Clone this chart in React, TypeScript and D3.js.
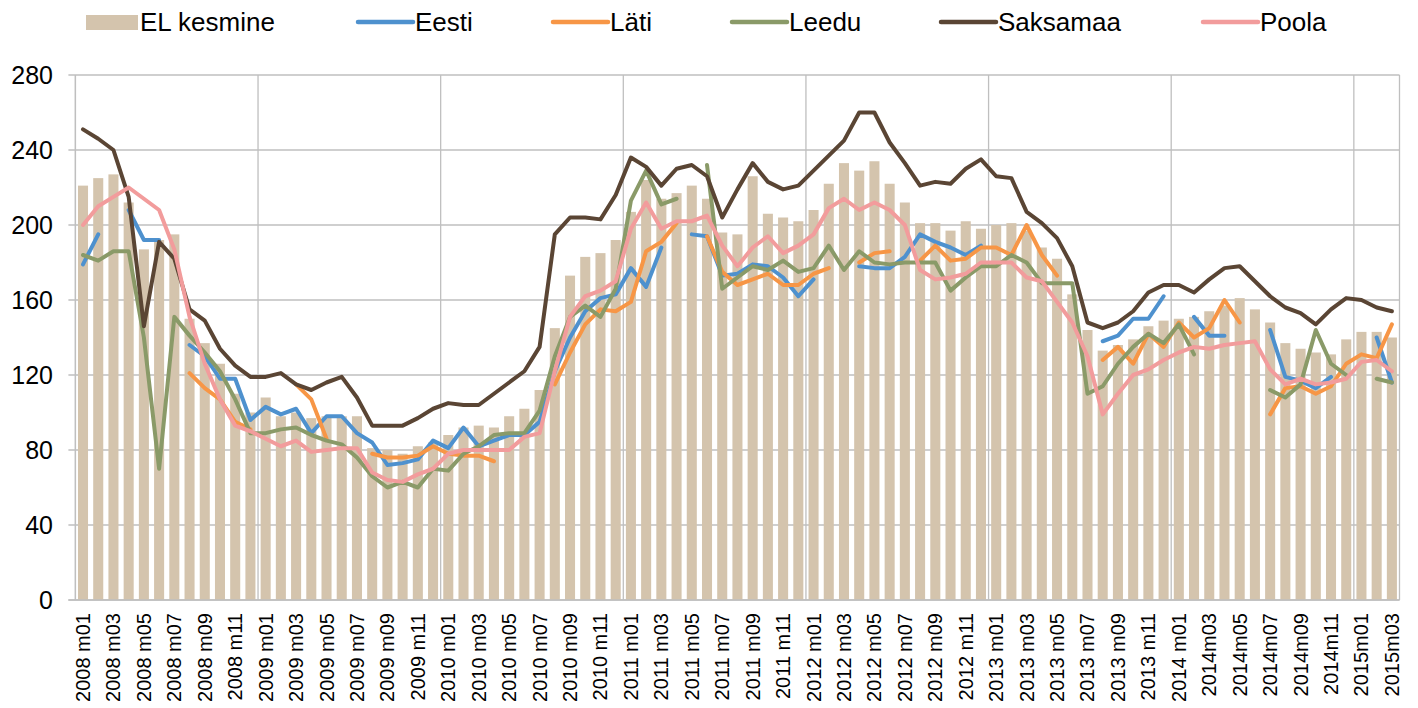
import React from "react";
import * as d3 from "d3";

const categories: string[] = [
  "2008 m01","2008 m02","2008 m03","2008 m04","2008 m05","2008 m06","2008 m07","2008 m08","2008 m09","2008 m10","2008 m11","2008 m12",
  "2009 m01","2009 m02","2009 m03","2009 m04","2009 m05","2009 m06","2009 m07","2009 m08","2009 m09","2009 m10","2009 m11","2009 m12",
  "2010 m01","2010 m02","2010 m03","2010 m04","2010 m05","2010 m06","2010 m07","2010 m08","2010 m09","2010 m10","2010 m11","2010 m12",
  "2011 m01","2011 m02","2011 m03","2011 m04","2011 m05","2011 m06","2011 m07","2011 m08","2011 m09","2011 m10","2011 m11","2011 m12",
  "2012 m01","2012 m02","2012 m03","2012 m04","2012 m05","2012 m06","2012 m07","2012 m08","2012 m09","2012 m10","2012 m11","2012 m12",
  "2013 m01","2013 m02","2013 m03","2013 m04","2013 m05","2013 m06","2013 m07","2013 m08","2013 m09","2013 m10","2013 m11","2013 m12",
  "2014 m01","2014m02","2014m03","2014m04","2014m05","2014m06","2014m07","2014m08","2014m09","2014m10","2014m11","2014m12",
  "2015m01","2015m02","2015m03"
];

const yTicks = [0, 40, 80, 120, 160, 200, 240, 280];

const elKesmine: number[] = [
  221, 225, 227, 212, 187, 192, 195, 150, 137, 126, 110, 100,
  108, 98, 100, 97, 98, 98, 98, 81, 80, 78, 82, 84,
  88, 92, 93, 92, 98, 102, 112, 145, 173, 183, 185, 192,
  207, 224, 214, 217, 221, 214, 196, 195, 226, 206, 204, 202,
  208, 222, 233, 229, 234, 222, 212, 201, 201, 197, 202, 198,
  200, 201, 197, 188, 182, 163, 144, 133, 136, 139, 146, 149,
  150, 151, 154, 157, 161, 155, 148, 137, 134, 132, 131, 139,
  143, 143, 140
];

const eesti: (number | null)[] = [
  179, 195, null, 208, 192, 192, null, 136, 130, 118, 118, 96,
  103, 99, 102, 89, 98, 98, 89, 84, 72, 73, 75, 85,
  81, 92, 82, 85, 88, 88, 95, 122, 140, 154, 161, 163,
  177, 167, 188, null, 195, 194, 173, 174, 179, 178, 172, 162,
  171, null, null, 178, 177, 177, 183, 195, 191, 188, 184, 189,
  null, null, null, null, null, null, null, 138, 141, 150, 150, 162,
  null, 151, 141, 141, null, null, 144, 119, 117, 113, 119, null,
  null, 140, 116
];

const lati: (number | null)[] = [
  null, null, null, null, null, null, null, 121, 113, 107, 95, 91,
  null, null, 115, 107, 86, null, null, 78, 76, 76, 77, 82,
  78, 77, 77, 74, null, null, null, 115, 132, 147, 155, 154,
  159, 186, 191, 201, null, 194, 175, 168, 171, 174, 168, 168,
  174, 177, null, 180, 185, 186, null, 181, 189, 181, 182, 188,
  188, 184, 200, 184, 173, null, null, 128, 135, 126, 142, 135,
  148, 140, 145, 160, 148, null, 99, 113, 114, 110, 114, 126,
  131, 129, 147
];

const leedu: (number | null)[] = [
  184, 181, 186, 186, 140, 70, 151, 141, 132, 122, 107, 89,
  89, 91, 92, 88, 85, 83, 76, 66, 60, 63, 60, 70,
  69, 78, 82, 88, 89, 89, 101, 130, 151, 157, 151, 166,
  213, 229, 211, 214, null, 232, 166, 172, 178, 176, 181, 175,
  177, 189, 176, 186, 180, 179, 180, 180, 180, 165, 172, 178,
  178, 184, 180, 169, 169, 169, 110, 114, 126, 135, 142, 137,
  147, 131, null, null, null, null, 112, 108, 115, 144, 126, 120,
  null, 118, 116
];

const saksamaa: number[] = [
  251, 246, 240, 215, 146, 191, 182, 155, 149, 134, 125, 119,
  119, 121, 115, 112, 116, 119, 108, 93, 93, 93, 97, 102,
  105, 104, 104, 110, 116, 122, 135, 195, 204, 204, 203, 216,
  236, 231, 221, 230, 232, 226, 204, 219, 233, 223, 219, 221,
  229, 237, 245, 260, 260, 244, 233, 221, 223, 222, 230, 235,
  226, 225, 207, 201, 193, 178, 148, 145, 148, 154, 164, 168,
  168, 164, 171, 177, 178, 170, 162, 156, 153, 147, 155, 161,
  160, 156, 154
];

const poola: number[] = [
  200, 210, 215, 220, 214, 208, 187, 151, 126, 107, 93, 90,
  86, 82, 85, 79, 80, 81, 81, 68, 64, 63, 67, 70,
  78, 80, 80, 80, 80, 87, 89, 122, 151, 162, 165, 170,
  198, 212, 198, 202, 202, 205, 189, 178, 188, 194, 185, 189,
  195, 209, 214, 208, 212, 208, 200, 176, 171, 172, 174, 180,
  180, 180, 172, 170, 159, 148, 130, 99, 110, 120, 123, 128,
  132, 135, 134, 136, 137, 138, 123, 115, 118, 115, 116, 118,
  127, 128, 122
];

const lineSeries = [
  { name: "Eesti", values: eesti, color: "#4E91CE" },
  { name: "Läti", values: lati, color: "#F79646" },
  { name: "Leedu", values: leedu, color: "#8A9A68" },
  { name: "Saksamaa", values: saksamaa, color: "#5A4534" },
  { name: "Poola", values: poola, color: "#F29C9C" },
];

const barName = "EL kesmine";
const barColor = "#D4C4AD";

const W = 1418;
const H = 708;
const plotLeft = 75.4;
const plotRight = 1399.5;
const plotTop = 75;
const plotBottom = 600;
const FONT = "'Liberation Sans', Arial, sans-serif";

export default function App() {
  const x = d3
    .scaleBand<string>()
    .domain(categories)
    .range([plotLeft, plotRight])
    .paddingInner(0.34)
    .paddingOuter(0.17);
  const step = x.step();
  const cx = (c: string) => (x(c) as number) + x.bandwidth() / 2;
  const y = d3.scaleLinear().domain([0, 280]).range([plotBottom, plotTop]);

  const lineGen = (vals: (number | null)[]) =>
    d3
      .line<number | null>()
      .defined((d) => d !== null && d !== undefined)
      .x((_, i) => cx(categories[i]))
      .y((d) => y(d as number))(vals) || "";

  const yearBoundaries = categories
    .map((c, i) => i)
    .filter((i) => i % 12 === 0)
    .map((i) => (x(categories[i]) as number) - (step * 0.34) / 2);

  // legend layout
  const legendY = 22;
  const legendItems = [
    { name: barName, type: "bar", color: barColor, x: 86 },
    ...lineSeries.map((s, i) => ({
      name: s.name,
      type: "line",
      color: s.color,
      x: [358, 553, 732, 941, 1203][i],
    })),
  ];

  return (
    <div style={{ position: "absolute", left: 0, top: 0, width: W, height: H, background: "#fff" }}>
      <svg width={W} height={H} style={{ display: "block", fontFamily: FONT }}>
        <rect x={0} y={0} width={W} height={H} fill="#fff" />
        {/* horizontal gridlines */}
        {yTicks.map((t) => (
          <line
            key={"g" + t}
            x1={plotLeft - 7}
            x2={plotRight}
            y1={y(t)}
            y2={y(t)}
            stroke="#BFBFBF"
            strokeWidth={1.3}
          />
        ))}
        {/* vertical gridlines */}
        {yearBoundaries.map((bx, i) => (
          <line key={"v" + i} x1={bx} x2={bx} y1={plotTop} y2={plotBottom} stroke="#BFBFBF" strokeWidth={1.3} />
        ))}
        <line x1={plotRight} x2={plotRight} y1={plotTop} y2={plotBottom} stroke="#BFBFBF" strokeWidth={1.3} />
        {/* bars */}
        {elKesmine.map((v, i) => (
          <rect
            key={"b" + i}
            x={x(categories[i]) as number}
            y={y(v)}
            width={x.bandwidth()}
            height={plotBottom - y(v)}
            fill={barColor}
          />
        ))}
        {/* axes lines */}
        <line x1={plotLeft} x2={plotLeft} y1={plotTop} y2={plotBottom} stroke="#BFBFBF" strokeWidth={1.3} />
        <line x1={plotLeft - 7} x2={plotRight} y1={plotBottom} y2={plotBottom} stroke="#BFBFBF" strokeWidth={1.3} />
        {/* lines */}
        {lineSeries.map((s) => (
          <path
            key={s.name}
            d={lineGen(s.values)}
            fill="none"
            stroke={s.color}
            strokeWidth={4}
            strokeLinejoin="round"
            strokeLinecap="round"
          />
        ))}
        {/* y tick labels */}
        {yTicks.map((t) => (
          <text
            key={"yl" + t}
            x={53}
            y={y(t)}
            dy="0.35em"
            textAnchor="end"
            fontSize={25}
            fill="#000"
          >
            {t}
          </text>
        ))}
        {/* x tick labels */}
        {categories.map((c, i) =>
          i % 2 === 0 ? (
            <text
              key={"xl" + i}
              transform={`translate(${cx(c)},${613}) rotate(-90)`}
              dy="0.35em"
              textAnchor="end"
              fontSize={20}
              fill="#000"
            >
              {c}
            </text>
          ) : null
        )}
        {/* legend */}
        {legendItems.map((it) => (
          <g key={"lg" + it.name}>
            {it.type === "bar" ? (
              <rect x={it.x} y={legendY - 7} width={52} height={15} fill={it.color} />
            ) : (
              <line
                x1={it.x}
                x2={it.x + 55}
                y1={legendY}
                y2={legendY}
                stroke={it.color}
                strokeWidth={4.5}
                strokeLinecap="round"
              />
            )}
            <text x={it.x + (it.type === "bar" ? 54 : 57)} y={legendY} dy="0.35em" fontSize={26} fill="#000">
              {it.name}
            </text>
          </g>
        ))}
      </svg>
    </div>
  );
}
